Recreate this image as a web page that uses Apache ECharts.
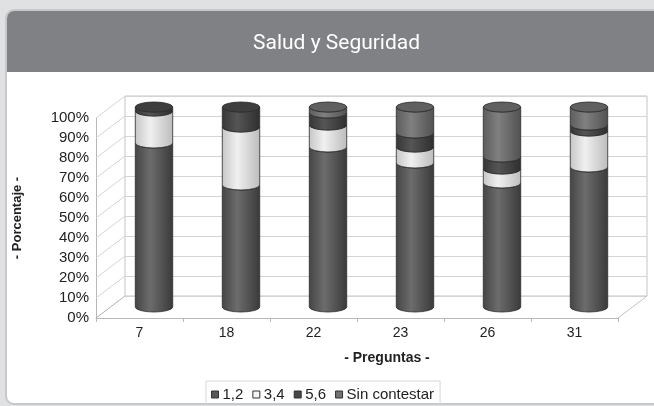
<!DOCTYPE html>
<html>
<head>
<meta charset="utf-8">
<script src="https://cdn.jsdelivr.net/npm/echarts@6/dist/echarts.min.js"></script>
<style>
  html, body { margin: 0; padding: 0; background: #e0e1e3; }
  #panel {
    position: absolute; left: 5px; top: 9px; width: 670px; height: 392px;
    background: #fff; border: 2px solid #c8c9cb; border-radius: 9px; overflow: hidden;
  }
  #head { height: 61px; background: #808184; }
  #chart { position: absolute; left: 0; top: 0; width: 654px; height: 406px; }
</style>
</head>
<body>
<div id="panel"><div id="head"></div></div>
<div id="chart"></div>
<script>
const categories = ['7', '18', '22', '23', '26', '31']
const s12 = [82, 61, 80, 72, 62, 70]
const s34 = [16, 29, 11, 8, 7, 18]
const s56 = [2, 10, 6, 7, 6, 3]
const sinContestar = [0, 0, 3, 13, 25, 9]
const yTicks = [0, 10, 20, 30, 40, 50, 60, 70, 80, 90, 100]

const seriesNames = ['1,2', '3,4', '5,6', 'Sin contestar']
const seriesValues = [s12, s34, s56, sinContestar]
const baseColors = ['#585858', '#f4f4f4', '#474747', '#727272']
const shades = [
  ['#454545', '#6c6c6c', '#3a3a3a'],
  ['#c6c6c6', '#f0f0f0', '#bcbcbc'],
  ['#363636', '#555555', '#2e2e2e'],
  ['#5c5c5c', '#808080', '#515151'],
]
const capColors = ['#4a4a4a', '#d0d0d0', '#3e3e3e', '#606060']

// front plane, depth offset
const F = { left: 96, top: 118, width: 522, height: 200 }
const DX = 29, DY = -22

// build stacked ranges [cat, start, end, isTop]
const stackData = seriesValues.map(() => [])
categories.forEach((c, i) => {
  let acc = 0
  let topIdx = 0
  seriesValues.forEach((arr, s) => { if (arr[i] > 0) topIdx = s })
  seriesValues.forEach((arr, s) => {
    stackData[s].push([i, acc, acc + arr[i], s === topIdx ? 1 : 0])
    acc += arr[i]
  })
})

function makeRender(s) {
  return function (params, api) {
    const lo = api.value(1), hi = api.value(2)
    if (hi - lo <= 0) return
    const cat = api.value(0)
    const p0 = api.coord([cat, lo])
    const p1 = api.coord([cat, hi])
    const rx = api.size([1, 0])[0] * 0.215
    const ry = 5
    const cx = p0[0]
    const yb = p0[1], yt = p1[1]
    const body = 'M' + (cx - rx) + ',' + yt +
      ' A' + rx + ',' + ry + ' 0 0 0 ' + (cx + rx) + ',' + yt +
      ' L' + (cx + rx) + ',' + yb +
      ' A' + rx + ',' + ry + ' 0 0 1 ' + (cx - rx) + ',' + yb + ' Z'
    const grad = new echarts.graphic.LinearGradient(0, 0, 1, 0, [
      { offset: 0, color: shades[s][0] },
      { offset: 0.4, color: shades[s][1] },
      { offset: 1, color: shades[s][2] },
    ])
    const children = [{
      type: 'path',
      shape: { pathData: body },
      style: { fill: grad, stroke: '#2a2a2a', lineWidth: 0.8 },
    }]
    if (api.value(3) === 1) {
      const cap = 'M' + (cx - rx) + ',' + yt +
        ' A' + rx + ',' + ry + ' 0 1 0 ' + (cx + rx) + ',' + yt +
        ' A' + rx + ',' + ry + ' 0 1 0 ' + (cx - rx) + ',' + yt + ' Z'
      children.push({
        type: 'path',
        shape: { pathData: cap },
        style: { fill: capColors[s], stroke: '#2a2a2a', lineWidth: 0.8 },
      })
    }
    return { type: 'group', children: children }
  }
}

// left wall diagonals and floor right edge
const wallLines = yTicks.map((t) => {
  const y = F.top + F.height - (t / 100) * F.height
  return {
    type: 'line', z: 1, silent: true,
    shape: { x1: F.left, y1: y, x2: F.left + DX, y2: y + DY },
    style: { stroke: t === 0 ? '#b0b0b0' : '#d4d4d4', lineWidth: 1 },
  }
})
wallLines.push({
  type: 'line', z: 1, silent: true,
  shape: { x1: F.left + F.width, y1: F.top + F.height, x2: F.left + F.width + DX, y2: F.top + F.height + DY },
  style: { stroke: '#c4c4c4', lineWidth: 1 },
})

const chart = echarts.init(document.getElementById('chart'))
chart.setOption({
  animation: false,
  textStyle: { fontFamily: 'Liberation Sans, Arial, sans-serif' },
  title: {
    text: 'Salud y Seguridad',
    left: 248,
    top: 28,
    textStyle: { color: '#ffffff', fontSize: 21, fontWeight: 'normal', fontFamily: 'Roboto' },
  },
  legend: {
    data: seriesNames,
    left: 206,
    top: 381,
    itemWidth: 7,
    itemHeight: 7,
    itemGap: 9,
    padding: [6, 6, 8, 5],
    borderColor: '#d6d6d6',
    borderWidth: 1,
    icon: 'rect',
    itemStyle: { borderColor: '#333', borderWidth: 1 },
    textStyle: { fontSize: 15, color: '#222', padding: [0, 0, 0, -1] },
  },
  graphic: wallLines,
  grid: [
    { left: F.left, top: F.top, width: F.width, height: F.height },
    { left: F.left + DX, top: F.top + DY, width: F.width, height: F.height, show: true, borderColor: '#c4c4c4', borderWidth: 1 },
    { left: F.left + DX / 2, top: F.top + DY / 2, width: F.width, height: F.height },
  ],
  xAxis: [
    {
      gridIndex: 0, type: 'category', data: categories,
      axisLine: { lineStyle: { color: '#b8b8b8' } },
      axisTick: { show: true, length: 4, lineStyle: { color: '#b8b8b8' } },
      axisLabel: { color: '#222', fontSize: 14, margin: 8 },
      name: '- Preguntas -', nameLocation: 'middle', nameGap: 33,
      nameTextStyle: { fontWeight: 'bold', fontSize: 14, color: '#222', padding: [0, 0, 0, 60] },
    },
    { gridIndex: 1, type: 'category', data: categories, show: false },
    { gridIndex: 2, type: 'category', data: categories, show: false },
  ],
  yAxis: [
    {
      gridIndex: 0, type: 'value', min: 0, max: 100, interval: 10,
      axisLine: { show: true, lineStyle: { color: '#b8b8b8' } },
      axisTick: { show: false },
      splitLine: { show: false },
      axisLabel: { formatter: '{value}%', color: '#222', fontSize: 15, margin: 7 },
      name: '- Porcentaje -', nameLocation: 'middle', nameGap: 72,
      nameTextStyle: { fontWeight: 'bold', fontSize: 13, color: '#222' },
    },
    {
      gridIndex: 1, type: 'value', min: 0, max: 100, interval: 10,
      axisLine: { show: false }, axisTick: { show: false }, axisLabel: { show: false },
      splitLine: { lineStyle: { color: '#d4d4d4' } },
    },
    { gridIndex: 2, type: 'value', min: 0, max: 100, show: false },
  ],
  series: seriesNames.map((name, s) => ({
    name: name,
    type: 'custom',
    xAxisIndex: 2,
    yAxisIndex: 2,
    z: 5,
    itemStyle: { color: baseColors[s] },
    renderItem: makeRender(s),
    data: stackData[s],
  })),
})
</script>
</body>
</html>
